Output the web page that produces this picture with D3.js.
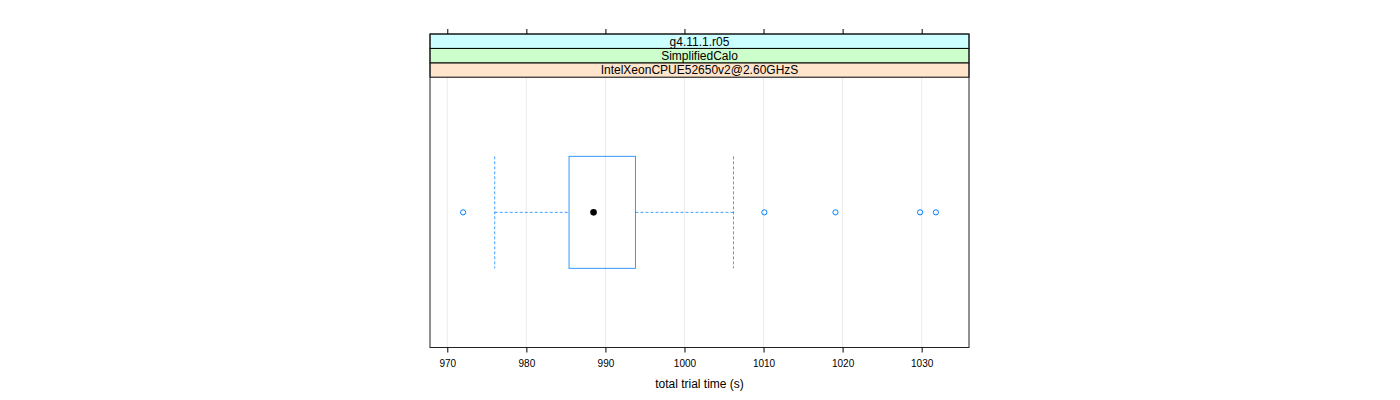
<!DOCTYPE html>
<html><head><meta charset="utf-8">
<script src="https://cdn.jsdelivr.net/npm/d3@7"></script>
<style>body{margin:0;background:#fff;}svg{display:block;font-family:"Liberation Sans",Arial,Helvetica,sans-serif;}</style>
</head><body>
<svg id="c" width="1400" height="400"></svg>
<script>
// data
const stripLabels = ["IntelXeonCPUE52650v2@2.60GHzS", "SimplifiedCalo", "g4.11.1.r05"];
const stripColors = ["#ffe5cc", "#ccffcc", "#ccffff"];
const boxStats = [976.0, 985.4, 988.5, 993.8, 1006.2]; // whiskerLow, q1, median, q3, whiskerHigh
const outliers = [972.0, 1010.1, 1019.1, 1029.8, 1031.8];
const tickValues = [970, 980, 990, 1000, 1010, 1020, 1030];
const xLabel = "total trial time (s)";

const svg = d3.select("#c");
const L = 430, R = 969, T = 34, stripH = 14.4, B = 347.5;
const panelTop = T + stripH * stripLabels.length;

const lo = d3.min([...boxStats, ...outliers]), hi = d3.max([...boxStats, ...outliers]);
const pad = (hi - lo) * 0.07;
const x = d3.scaleLinear().domain([lo - pad, hi + pad]).range([L, R]);
const y = d3.scaleBand().domain(["g"]).range([panelTop, B]).paddingInner(0).paddingOuter(0);

// grid
svg.append("g").selectAll("line").data(tickValues).join("line")
  .attr("x1", d => x(d)).attr("x2", d => x(d))
  .attr("y1", panelTop).attr("y2", B)
  .attr("stroke", "#ebebeb").attr("stroke-width", 1);

// strips (bottom first)
stripLabels.forEach((lab, i) => {
  const y0 = panelTop - stripH * (i + 1);
  svg.append("rect").attr("x", L).attr("y", y0).attr("width", R - L).attr("height", stripH)
    .attr("fill", stripColors[i]).attr("stroke", "#000").attr("stroke-width", 1);
  svg.append("text").attr("x", (L + R) / 2).attr("y", y0 + stripH / 2 + 4.3)
    .attr("text-anchor", "middle").attr("font-size", 12).attr("fill", "#000").text(lab);
});

// panel frame
svg.append("rect").attr("x", L).attr("y", T).attr("width", R - L).attr("height", B - T)
  .attr("fill", "none").attr("stroke", "#222").attr("stroke-width", 1);

// axes
const axB = d3.axisBottom(x).tickValues(tickValues).tickSize(5).tickPadding(7).tickFormat(d3.format("d"));
const gB = svg.append("g").attr("transform", `translate(0,${B})`).call(axB);
gB.select(".domain").remove();
gB.selectAll("line").attr("stroke", "#000");
gB.selectAll("text").attr("font-size", 10).attr("fill", "#000").attr("font-family", "Liberation Sans, Arial, sans-serif");
const axT = d3.axisTop(x).tickValues(tickValues).tickSize(5).tickFormat("");
const gT = svg.append("g").attr("transform", `translate(0,${T})`).call(axT);
gT.select(".domain").remove();
gT.selectAll("line").attr("stroke", "#000");

svg.append("text").attr("x", (L + R) / 2).attr("y", 388).attr("text-anchor", "middle")
  .attr("font-size", 12).attr("fill", "#000").text(xLabel);

// box
const cy = y("g") + y.bandwidth() / 2;
const bh = 112;
const blue = "#0080ff";
const [wl, q1, med, q3, wh] = boxStats;
const dash = "3,2";
svg.append("line").attr("x1", x(wl)).attr("x2", x(q1)).attr("y1", cy).attr("y2", cy)
  .attr("stroke", blue).attr("stroke-dasharray", dash).attr("stroke-opacity", 0.75);
svg.append("line").attr("x1", x(q3)).attr("x2", x(wh)).attr("y1", cy).attr("y2", cy)
  .attr("stroke", blue).attr("stroke-dasharray", dash).attr("stroke-opacity", 0.75);
[wl, wh].forEach(v => svg.append("line").attr("x1", x(v)).attr("x2", x(v))
  .attr("y1", cy - bh / 2).attr("y2", cy + bh / 2)
  .attr("stroke", blue).attr("stroke-dasharray", dash).attr("stroke-opacity", 0.75));
svg.append("rect").attr("x", x(q1)).attr("y", cy - bh / 2).attr("width", x(q3) - x(q1)).attr("height", bh)
  .attr("fill", "none").attr("stroke", blue).attr("stroke-opacity", 0.8);
svg.append("circle").attr("cx", x(med)).attr("cy", cy).attr("r", 3.3).attr("fill", "#000");
svg.append("g").selectAll("circle").data(outliers).join("circle")
  .attr("cx", d => x(d)).attr("cy", cy).attr("r", 2.6)
  .attr("fill", "none").attr("stroke", blue).attr("stroke-width", 1);
</script>
</body></html>
